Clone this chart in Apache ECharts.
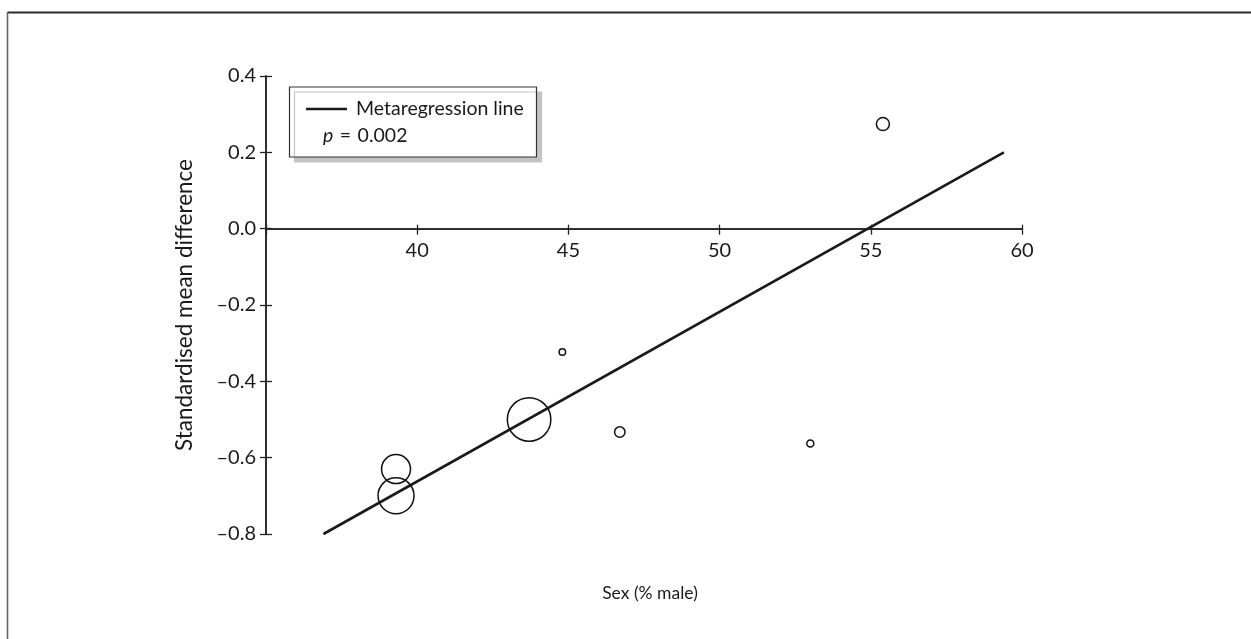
<!DOCTYPE html>
<html>
<head>
<meta charset="utf-8">
<script src="https://cdn.jsdelivr.net/npm/echarts@6/dist/echarts.min.js"></script>
<style>
html,body{margin:0;padding:0;background:#fff;}
#chart{width:1251px;height:639px;}
</style>
</head>
<body>
<div id="chart"></div>
<script>
// ---- data ----
const studyX = [39.3, 39.3, 43.7, 44.8, 46.7, 53.0, 55.4];
const studyY = [-0.63, -0.70, -0.50, -0.323, -0.533, -0.563, 0.274];
const studyWeight = [29, 36, 43.5, 6.5, 10.5, 7, 13];
const lineX = [36.9, 59.4];
const lineY = [-0.80, 0.20];
const xTickLabels = ['', '40', '45', '50', '55', '60'];
const yTickLabels = ['\u20130.8', '\u20130.6', '\u20130.4', '\u20130.2', '0.0', '0.2', '0.4'];
const legendName = 'Metaregression line';
const pText = '0.002';
const xTitle = 'Sex (% male)';
const yTitle = 'Standardised mean difference';

const FONT = 'Lato';
const AX = '#222';
const TXT = '#1a1a1a';
const chart = echarts.init(document.getElementById('chart'), null, {renderer: 'canvas'});

const xMin = 35, xMax = 60, xInt = 5;
const yMin = -0.8, yMax = 0.4, yInt = 0.2;

const gridTop = 76, gridBottom = 105, H = 639;
const plotH = H - gridTop - gridBottom;
// shift the x-axis up from the grid bottom to where y = 0 sits
const zeroOffset = -(plotH * (0 - yMin) / (yMax - yMin));

const baseX = {
  type: 'value', min: xMin, max: xMax, interval: xInt,
  position: 'bottom', offset: zeroOffset,
  splitLine: {show: false},
  axisLine: {show: true, onZero: false, lineStyle: {color: AX, width: 1.5}}
};
const baseY = {
  type: 'value', min: yMin, max: yMax, interval: yInt,
  position: 'left',
  splitLine: {show: false},
  axisLine: {show: true, onZero: false, lineStyle: {color: AX, width: 1.5}}
};

chart.setOption({
  animation: false,
  backgroundColor: '#fff',
  grid: {left: 266, right: 229, top: gridTop, bottom: gridBottom, containLabel: false},
  xAxis: [
    Object.assign({}, baseX, {
      axisTick: {show: true, inside: false, length: 6, lineStyle: {color: AX, width: 1.3}},
      axisLabel: {
        show: true, margin: 12, fontFamily: FONT, fontSize: 20, color: TXT,
        formatter: v => xTickLabels[Math.round((v - xMin) / xInt)] || ''
      }
    }),
    Object.assign({}, baseX, {
      axisTick: {show: true, inside: true, length: 4, lineStyle: {color: AX, width: 1.3}},
      axisLabel: {show: false}
    })
  ],
  yAxis: [
    Object.assign({}, baseY, {
      axisTick: {show: true, inside: false, length: 6, lineStyle: {color: AX, width: 1.3}},
      axisLabel: {
        show: true, margin: 10, fontFamily: FONT, fontSize: 20, color: TXT,
        formatter: v => yTickLabels[Math.round((v - yMin) / yInt)] || ''
      },
      name: yTitle, nameLocation: 'middle', nameGap: 70, nameRotate: 90,
      nameTextStyle: {fontFamily: FONT, fontSize: 22.5, color: TXT}
    }),
    Object.assign({}, baseY, {
      axisTick: {show: true, inside: true, length: 6, lineStyle: {color: AX, width: 1.3}},
      axisLabel: {show: false}
    })
  ],
  legend: {
    show: true,
    left: 306, top: 99,
    itemWidth: 41, itemHeight: 2.5,
    padding: 0,
    data: [{name: legendName, icon: 'rect'}],
    textStyle: {fontFamily: FONT, fontSize: 19.5, color: TXT, padding: [0, 0, 0, 4]},
    itemStyle: {color: '#1a1a1a'}
  },
  series: [
    {
      name: legendName,
      type: 'line',
      xAxisIndex: 0, yAxisIndex: 0,
      data: lineX.map((x, i) => [x, lineY[i]]),
      symbol: 'none',
      lineStyle: {color: '#1a1a1a', width: 2.6},
      itemStyle: {color: '#1a1a1a'},
      z: 3
    },
    {
      name: 'Studies',
      type: 'scatter',
      xAxisIndex: 0, yAxisIndex: 0,
      data: studyX.map((x, i) => [x, studyY[i], studyWeight[i]]),
      symbol: 'circle',
      symbolSize: d => d[2],
      itemStyle: {color: 'rgba(255,255,255,0)', borderColor: '#111', borderWidth: 1.5, opacity: 1},
      z: 4
    }
  ],
  graphic: [
    {type: 'line', shape: {x1: 7.5, y1: 12.5, x2: 1251, y2: 12.5}, style: {stroke: '#2a2a2a', lineWidth: 2}, z: 10},
    {type: 'line', shape: {x1: 7.5, y1: 12, x2: 7.5, y2: 639}, style: {stroke: '#666', lineWidth: 1.6}, z: 10},
    {
      type: 'rect', z: 1,
      shape: {x: 289.5, y: 87, width: 247, height: 70},
      style: {fill: '#fff', stroke: '#333', lineWidth: 1.2, shadowColor: '#c4c4c4', shadowOffsetX: 5, shadowOffsetY: 5, shadowBlur: 0}
    },
    {
      type: 'text', z: 5, x: 323, y: 136,
      style: {
        text: '{i|p}\u2004=\u2004' + pText,
        rich: {i: {fontStyle: 'italic', fontFamily: FONT, fontSize: 19.5, fill: TXT}},
        fontFamily: FONT, fontSize: 19.5, fill: TXT, verticalAlign: 'middle'
      }
    },
    {
      type: 'text', z: 5, x: 650, y: 593,
      style: {text: xTitle, fontFamily: FONT, fontSize: 17.5, fill: TXT, align: 'center', verticalAlign: 'middle'}
    }
  ]
});
</script>
</body>
</html>
